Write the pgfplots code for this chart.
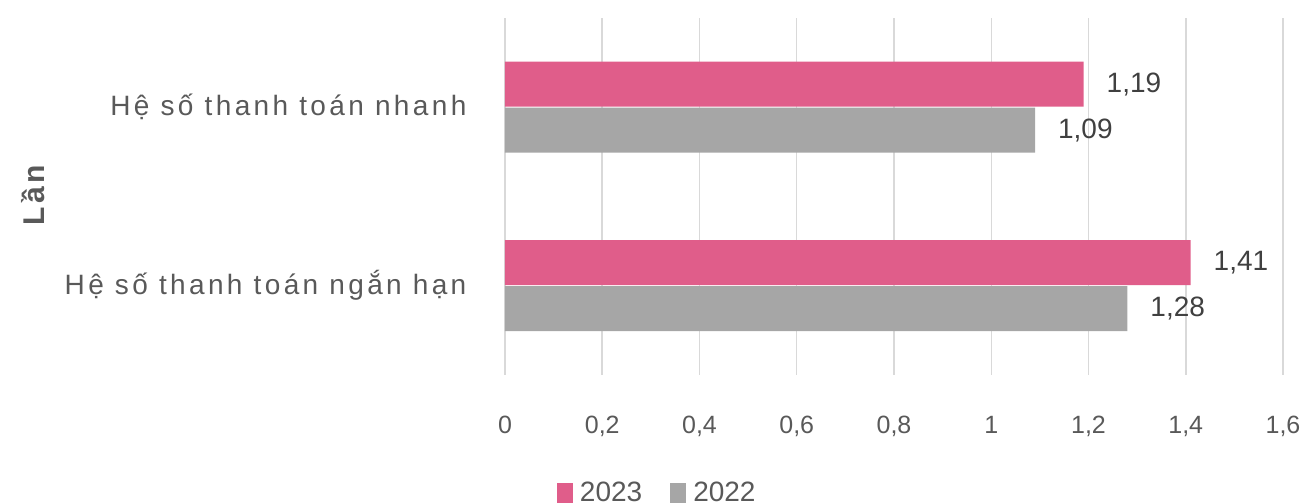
\documentclass[border=0pt]{standalone}
\usepackage{fontspec}
\setmainfont{Liberation Sans}
\newfontfamily\spaced[LetterSpace=12]{Liberation Sans}
\newfontfamily\spacedb[LetterSpace=12]{Liberation Sans Bold}
\usepackage{pgfplots}
\pgfplotsset{compat=1.18}
\definecolor{pinkbar}{RGB}{224,93,138}
\definecolor{graybar}{RGB}{166,166,166}
\definecolor{gridc}{RGB}{217,217,217}
\definecolor{txt}{RGB}{89,89,89}
\definecolor{lbl}{RGB}{64,64,64}
\begin{document}
\begin{tikzpicture}
\begin{axis}[
  scale only axis,
  width=389pt, height=178.5pt,
  xbar, bar width=22.5pt,
  xmin=0, xmax=1.6,
  ymin=-0.5, ymax=1.5,
  xtick={0,0.2,0.4,0.6,0.8,1,1.2,1.4,1.6},
  ytick={0,1},
  yticklabels={{\spaced Hệ số thanh toán ngắn hạn},{\spaced Hệ số thanh toán nhanh}},
  yticklabel style={font=\fontsize{14}{16}\selectfont, text=txt, xshift=-11.5pt},
  xticklabel style={font=\fontsize{12.5}{15}\selectfont, text=txt, yshift=-17pt,
    /pgf/number format/.cd, use comma, fixed, precision=1, assume math mode=true},
  xmajorgrids, grid style={gridc, line width=0.75pt},
  axis line style={draw=none},
  major tick style={draw=none},
  clip=false,
  ylabel={\spacedb Lần},
  every axis y label/.style={at={(axis description cs:-0.607,0.504)},rotate=90,anchor=center,
    font=\fontsize{15}{17}\selectfont, text=txt},
  nodes near coords={\pgfmathprintnumber[use comma,fixed,precision=2,assume math mode=true]{\pgfplotspointmeta}},
  nodes near coords style={font=\fontsize{14}{16}\selectfont, text=lbl, anchor=west, xshift=8pt},
  legend style={at={(axis description cs:0.197,-0.33)}, anchor=center, draw=none, fill=none,
    legend columns=2, font=\fontsize{14}{16}\selectfont, text=txt,
    /tikz/every odd column/.append style={column sep=1.5pt},
    /tikz/every even column/.append style={column sep=12pt}},
  legend image code/.code={\fill[#1] (0pt,-5pt) rectangle (8pt,5pt);},
]
\addplot[fill=pinkbar, draw=none, bar shift=11.5pt] coordinates {(1.41,0) (1.19,1)};
\addlegendentry{2023}
\addplot[fill=graybar, draw=none, bar shift=-11.5pt] coordinates {(1.28,0) (1.09,1)};
\addlegendentry{2022}
\coordinate (bl) at (rel axis cs:-0.6491,-0.3613);
\coordinate (tr) at (rel axis cs:1.0257,1.0504);
\end{axis}
\pgfresetboundingbox
\path (bl) rectangle (tr);
\end{tikzpicture}
\end{document}
